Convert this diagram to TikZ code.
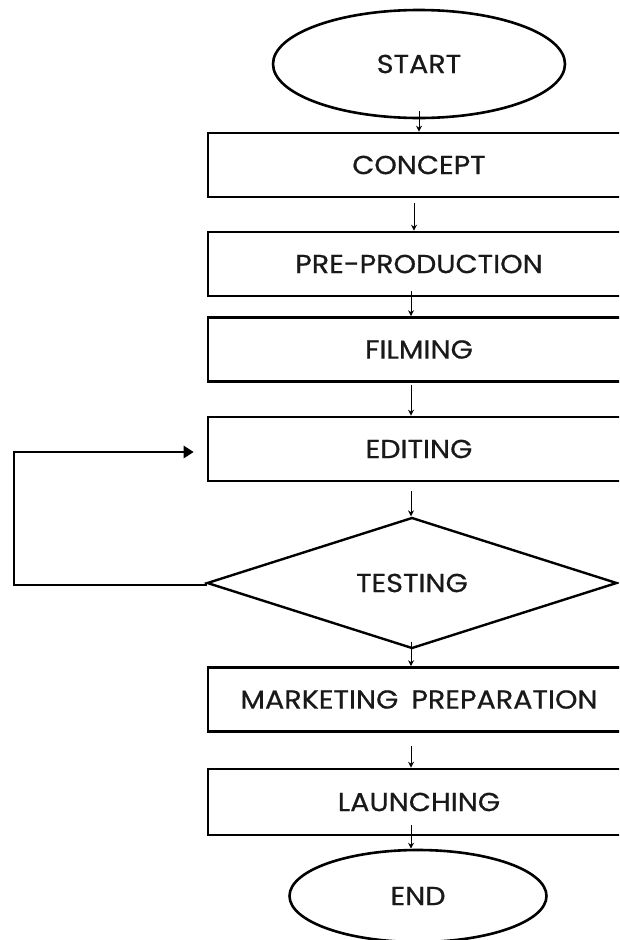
\documentclass[tikz,border=0pt]{standalone}
\usepackage{fontspec}
\newfontfamily\lblfont{Poppins}[FakeBold=0.6, FakeStretch=1.1]
\usetikzlibrary{shapes.geometric,arrows.meta}
\begin{document}
\begin{tikzpicture}[x=1pt,y=-1pt,
  every node/.style={font=\lblfont\fontsize{26}{30}\selectfont, text=black!90},
  stepbox/.style={draw, line width=2.6pt, rectangle, inner sep=0pt, minimum width=422pt, minimum height=64pt},
  termbox/.style={draw, line width=2.6pt, ellipse, inner sep=0pt},
  decbox/.style={draw, line width=2.4pt, diamond, inner sep=0pt, minimum width=410pt, minimum height=131pt},
  arr/.style={line width=0.9pt, -{Stealth[length=6pt,width=6pt]}},
  looparr/.style={line width=2.6pt, -{Triangle[length=10pt,width=12pt]}}
]
\fill[white] (0,0) rectangle (619,940);
\useasboundingbox (0,0) rectangle (619,940);
\clip (0,0) rectangle (619,940);

\node[termbox, minimum width=292pt, minimum height=108pt] (start) at (419,64) {START};
\node[stepbox] (concept) at (419,165) {CONCEPT};
\node[stepbox] (pre) at (419,264) {PRE-PRODUCTION};
\node[stepbox] (film) at (419,349.5) {FILMING};
\node[stepbox] (edit) at (419,449) {EDITING};
\node[decbox] (test) at (412,583) {TESTING};
\node[stepbox] (market) at (419,699.5) {MARKETING\hspace{0.5em}PREPARATION};
\node[stepbox, minimum height=66pt] (launch) at (419,802) {LAUNCHING};
\node[termbox, minimum width=257pt, minimum height=92pt] (end) at (418,896) {END};

\draw[arr] ([yshift=8pt]start.south) -- (concept.north);
\draw[arr] ([xshift=-5pt,yshift=-5pt]concept.south) -- ([xshift=-5pt]pre.north);
\draw[arr] ([xshift=-8pt,yshift=6pt]pre.south) -- ([xshift=-8pt]film.north);
\draw[arr] ([xshift=-8pt,yshift=-2.5pt]film.south) -- ([xshift=-8pt]edit.north);
\draw[arr] ([xshift=-8pt,yshift=-9pt]edit.south) -- ([xshift=-1pt]test.north);
\draw[arr] ([xshift=-1pt,yshift=8pt]test.south) -- ([xshift=-8pt]market.north);
\draw[arr] ([xshift=-8pt,yshift=-13pt]market.south) -- ([xshift=-8pt]launch.north);
\draw[arr] ([xshift=-8pt,yshift=11pt]launch.south) -- ([xshift=-7pt]end.north);

\coordinate (lb) at (14,585);
\coordinate (lt) at (14,452);
\draw[line width=2.6pt] (test.west) -- (lb -| test.west) -- (lb) -- ([yshift=-1.3pt]lt);
\draw[looparr] ([xshift=-1.3pt]lt) -- ([xshift=-13pt]lt -| edit.west);
\end{tikzpicture}
\end{document}
